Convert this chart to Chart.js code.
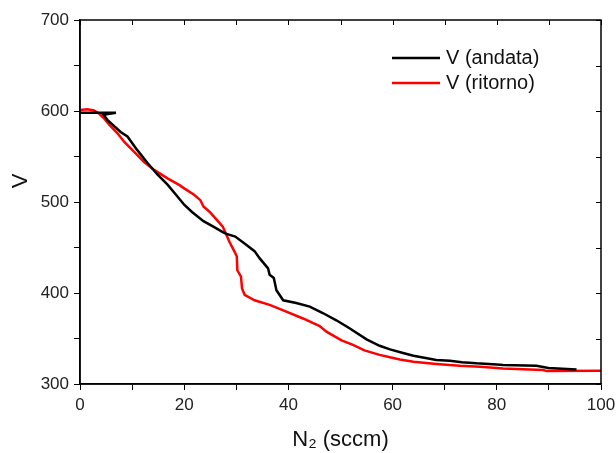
<!DOCTYPE html>
<html>
<head>
<meta charset="utf-8">
<script src="https://cdn.jsdelivr.net/npm/chart.js@4.4.0/dist/chart.umd.min.js"></script>
<style>
  html, body { margin: 0; padding: 0; background: #fff; }
  #chart { display: block; }
</style>
</head>
<body>
<canvas id="chart" width="616" height="453"></canvas>
<script>
// andata (black) - N2 flow vs voltage
var andataX = [0, 6.9, 4.5, 5.3, 7.8, 9.1, 11, 13, 14.9, 16.8, 18.7, 20, 21.5, 23.7, 25.6, 27.4, 28.1, 29.8, 31.9, 33.5, 34.5, 36.1, 36.4, 37.2, 37.7, 39, 41.5, 44.1, 46.6, 49.2, 51.8, 55, 57.5, 59.5, 62, 64, 68.4, 71, 73.3, 76.1, 80, 81.2, 87.6, 89.9, 95.3];
var andataV = [598, 598, 596, 590, 577, 572, 557, 542.5, 530, 519, 506, 497, 489, 479, 473, 467, 465, 462, 453, 446, 438, 427, 420, 416.5, 403, 392, 389, 385, 378, 370, 361, 349, 342, 338, 334, 331, 326.5, 325.5, 324, 322.7, 321.5, 321, 320, 317.5, 316];

// ritorno (red)
var ritornoX = [0, 1.4, 2.7, 3.7, 4.6, 5.6, 7.2, 8.5, 10.4, 12.3, 14.3, 16.8, 19.1, 20, 21.9, 23.1, 23.7, 24.9, 26, 27.4, 28.7, 29.7, 30.1, 30.2, 30.9, 31.1, 31.6, 33.5, 36.4, 39.6, 42.8, 46, 47.3, 50.2, 52.4, 54.6, 57.5, 59.5, 61.4, 64, 68.4, 72.9, 76.8, 80, 81.2, 88.9, 89.6, 100];
var ritornoV = [601, 602, 600.5, 597, 592, 585, 575.5, 566, 555, 544, 535, 526, 518.5, 515, 508, 502, 495, 489, 482, 473, 456, 445, 440, 425, 418, 405, 398, 392, 387, 379.5, 372, 363.7, 357.5, 348, 343, 337, 332, 329.3, 327, 324.5, 322, 320, 319, 317.5, 317, 315.4, 314.2, 314.6];

var xTicks = [0, 20, 40, 60, 80, 100];
var yTicks = [300, 400, 500, 600, 700];

function toPoints(xs, ys) {
  var pts = [];
  for (var i = 0; i < xs.length; i++) pts.push({x: xs[i], y: ys[i]});
  return pts;
}

var fontFam = "'Liberation Sans', Arial, sans-serif";

// frame, inner ticks on top/right, legend and y title
var decorations = {
  id: 'decorations',
  afterDraw: function (chart) {
    var ctx = chart.ctx;
    var a = chart.chartArea;
    var xs = chart.scales.x, ys = chart.scales.y;
    ctx.save();
    ctx.strokeStyle = '#000';
    ctx.lineWidth = 1.5;
    ctx.strokeRect(a.left, a.top, a.right - a.left, a.bottom - a.top);
    ctx.lineWidth = 1;
    var v;
    for (v = 0; v <= 100; v += 10) {
      var px = Math.round(xs.getPixelForValue(v)) + 0.5;
      ctx.beginPath(); ctx.moveTo(px, a.top); ctx.lineTo(px, a.top + 5); ctx.stroke();
    }
    for (v = 300; v <= 700; v += 50) {
      var py = Math.round(ys.getPixelForValue(v)) + 0.5;
      ctx.beginPath(); ctx.moveTo(a.right, py); ctx.lineTo(a.right - 5, py); ctx.stroke();
    }
    // legend
    ctx.font = '20px ' + fontFam;
    ctx.textBaseline = 'middle';
    ctx.textAlign = 'left';
    chart.data.datasets.forEach(function (ds, i) {
      var y = 58 + i * 25;
      ctx.strokeStyle = ds.borderColor;
      ctx.lineWidth = 2.5;
      ctx.beginPath(); ctx.moveTo(392, y); ctx.lineTo(440, y); ctx.stroke();
      ctx.fillStyle = '#111';
      ctx.fillText(ds.label, 446, y);
    });
    // y title
    ctx.translate(21, 181);
    ctx.rotate(-Math.PI / 2);
    ctx.textAlign = 'center';
    ctx.textBaseline = 'middle';
    ctx.font = '22px ' + fontFam;
    ctx.fillText('V', 0, 0);
    ctx.restore();
  }
};

var ctx = document.getElementById('chart').getContext('2d');
var chart = new Chart(ctx, {
  type: 'line',
  data: {
    datasets: [
      {
        label: 'V (andata)',
        data: toPoints(andataX, andataV),
        borderColor: '#000000',
        borderWidth: 2.5,
        pointRadius: 0,
        tension: 0,
        fill: false
      },
      {
        label: 'V (ritorno)',
        data: toPoints(ritornoX, ritornoV),
        borderColor: '#ff0000',
        borderWidth: 2.5,
        pointRadius: 0,
        tension: 0,
        fill: false
      }
    ]
  },
  options: {
    responsive: false,
    animation: false,
    layout: { padding: { left: 0, right: 15, top: 20, bottom: 0 } },
    plugins: {
      legend: { display: false },
      tooltip: { enabled: false }
    },
    scales: {
      x: {
        type: 'linear',
        min: 0,
        max: 100,
        afterFit: function (s) { s.height = 69; s.paddingLeft = 0; s.paddingRight = 0; },
        border: { display: true, color: '#000', width: 1.5 },
        grid: { drawOnChartArea: false, drawTicks: true, tickLength: 6, color: '#000' },
        ticks: {
          stepSize: 10,
          autoSkip: false,
          maxRotation: 0,
          padding: 5,
          color: '#222',
          font: { family: fontFam, size: 17 },
          callback: function (v) { return xTicks.indexOf(v) >= 0 ? String(v) : ''; }
        },
        title: {
          display: true,
          text: 'N\u2082 (sccm)',
          color: '#111',
          font: { family: fontFam, size: 22 },
          padding: { top: 3, bottom: 0 }
        }
      },
      y: {
        min: 300,
        max: 700,
        afterFit: function (s) { s.width = 80; },
        border: { display: true, color: '#000', width: 1.5 },
        grid: { drawOnChartArea: false, drawTicks: true, tickLength: 6, color: '#000' },
        ticks: {
          stepSize: 50,
          autoSkip: false,
          padding: 5,
          color: '#222',
          font: { family: fontFam, size: 17 },
          callback: function (v) { return yTicks.indexOf(v) >= 0 ? String(v) : ''; }
        }
      }
    }
  },
  plugins: [decorations]
});
</script>
</body>
</html>
